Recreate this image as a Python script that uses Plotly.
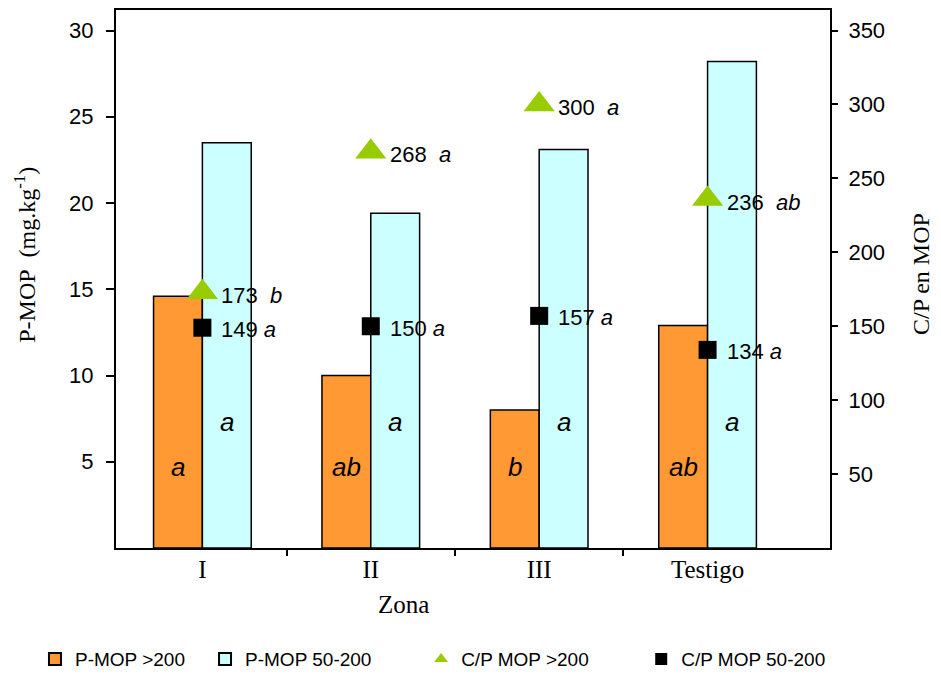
import plotly.graph_objects as go

# ---- data ----
zonas = ["I", "II", "III", "Testigo"]
p_mop_gt200 = [14.6, 10.0, 8.0, 12.9]
p_mop_50_200 = [23.5, 19.4, 23.1, 28.2]
cp_mop_gt200 = [173, 268, 300, 236]
cp_mop_50_200 = [149, 150, 157, 134]
let_p_gt200 = ["a", "ab", "b", "ab"]
let_p_50_200 = ["a", "a", "a", "a"]
let_cp_gt200 = ["b", "a", "a", "ab"]
let_cp_50_200 = ["a", "a", "a", "a"]

xpos = list(range(len(zonas)))
BAR_W = 0.29
SANS = "Liberation Sans, Arial, sans-serif"
SERIF = "Liberation Serif, Times New Roman, serif"

fig = go.Figure()
fig.add_trace(go.Bar(
    x=xpos, y=p_mop_gt200, width=BAR_W, offset=-BAR_W, name="P-MOP >200",
    marker=dict(color="#FF9933", line=dict(color="black", width=1.5)),
    legend="legend"))
fig.add_trace(go.Bar(
    x=xpos, y=p_mop_50_200, width=BAR_W, offset=0, name="P-MOP 50-200",
    marker=dict(color="#CCFFFF", line=dict(color="black", width=1.5)),
    legend="legend2"))
fig.add_trace(go.Scatter(
    x=xpos, y=cp_mop_gt200, mode="markers", name="C/P MOP >200", yaxis="y2",
    marker=dict(symbol="triangle-up", size=27, color="#99CC00"),
    legend="legend3"))
fig.add_trace(go.Scatter(
    x=xpos, y=cp_mop_50_200, mode="markers", name="C/P MOP 50-200", yaxis="y2",
    marker=dict(symbol="square", size=18, color="black"),
    legend="legend4"))

ann = []
for i, z in enumerate(zonas):
    ann.append(dict(x=i - BAR_W / 2, y=4.7, xref="x", yref="y", text="<i>%s</i>" % let_p_gt200[i],
                    showarrow=False, font=dict(family=SANS, size=26, color="black")))
    ann.append(dict(x=i + BAR_W / 2, y=7.3, xref="x", yref="y", text="<i>%s</i>" % let_p_50_200[i],
                    showarrow=False, font=dict(family=SANS, size=26, color="black")))
    ann.append(dict(x=i, y=cp_mop_gt200[i], xref="x", yref="y2",
                    text="%d&nbsp;&nbsp;<i>%s</i>" % (cp_mop_gt200[i], let_cp_gt200[i]),
                    xanchor="left", yanchor="middle", xshift=17, yshift=-3, showarrow=False,
                    font=dict(family=SANS, size=22, color="black")))
    ann.append(dict(x=i, y=cp_mop_50_200[i], xref="x", yref="y2",
                    text="%d&nbsp;<i>%s</i>" % (cp_mop_50_200[i], let_cp_50_200[i]),
                    xanchor="left", yanchor="middle", xshift=17, yshift=-2, showarrow=False,
                    font=dict(family=SANS, size=22, color="black")))

# axis titles
ann.append(dict(x=0.402, y=-0.1053, xref="paper", yref="paper", text="Zona", showarrow=False,
                xanchor="center", yanchor="middle",
                font=dict(family=SERIF, size=25, color="black")))
ann.append(dict(x=-0.1275, y=0.545, xref="paper", yref="paper", text="P-MOP&nbsp;&nbsp;(mg.kg<sup>-1</sup>)",
                xanchor="center", yanchor="middle",
                textangle=-90, showarrow=False, font=dict(family=SERIF, size=24, color="black")))
ann.append(dict(x=1.1265, y=0.51, xref="paper", yref="paper", text="C/P en MOP",
                xanchor="center", yanchor="middle",
                textangle=-90, showarrow=False, font=dict(family=SERIF, size=24, color="black")))

leg_font = dict(family=SANS, size=19, color="black")
def leg(xp):
    return dict(x=xp, y=-0.2066, xanchor="left", yanchor="middle", orientation="h",
                font=leg_font, bgcolor="rgba(0,0,0,0)", itemsizing="constant", tracegroupgap=0)

# the page body adds an 8 px margin all round, so the figure is sized to fit inside it
fig.update_layout(
    width=925, height=661,
    margin=dict(l=108, r=103, t=2, b=121, autoexpand=False),
    paper_bgcolor="white", plot_bgcolor="white",
    showlegend=True,
    legend=leg((35 - 116) / 713.7),
    legend2=leg((205 - 116) / 713.7),
    legend3=leg((421 - 116) / 713.7),
    legend4=leg((641 - 116) / 713.7),
    annotations=ann,
    xaxis=dict(range=[-0.513, 3.727], tickvals=xpos, ticktext=zonas, ticks="",
               tickfont=dict(family=SERIF, size=25, color="black"), ticklabelstandoff=-2,
               showline=True, linecolor="black", linewidth=2, mirror=True,
               showgrid=False, zeroline=False, automargin=False,
               minor=dict(tickvals=[0.5, 1.5, 2.5], ticks="outside", ticklen=6,
                          tickwidth=2, tickcolor="black", showgrid=False)),
    yaxis=dict(range=[0, 31.19], tickvals=[5, 10, 15, 20, 25, 30], ticks="outside",
               ticklen=8, tickwidth=2, tickcolor="black",
               tickfont=dict(family=SANS, size=22, color="black"), ticklabelstandoff=8,
               showline=True, linecolor="black", linewidth=2, mirror=True,
               showgrid=False, zeroline=False, automargin=False),
    yaxis2=dict(range=[0, 363.9], tickvals=[50, 100, 150, 200, 250, 300, 350],
                overlaying="y", side="right", ticks="outside", ticklen=7, tickwidth=2,
                tickcolor="black", tickfont=dict(family=SANS, size=22, color="black"),
                ticklabelstandoff=6, showline=False, showgrid=False, zeroline=False,
                automargin=False),
)

fig.write_html("out.html")
